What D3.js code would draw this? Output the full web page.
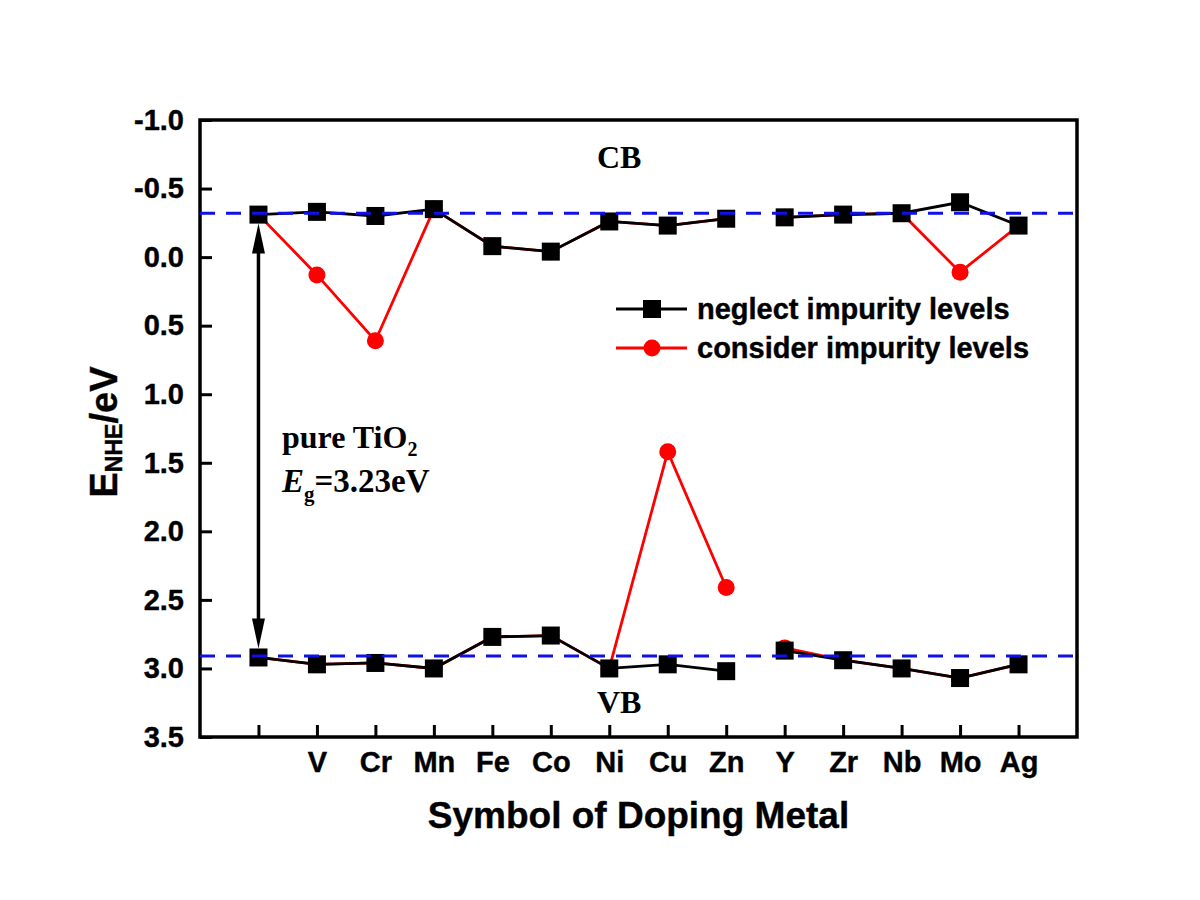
<!DOCTYPE html>
<html>
<head>
<meta charset="utf-8">
<script src="https://cdn.jsdelivr.net/npm/d3@7"></script>
<style>
  html, body { margin: 0; padding: 0; background: #fff; }
  svg { display: block; }
</style>
</head>
<body>
<svg id="chart" width="1200" height="900"></svg>
<script>
// ---------------- data ----------------
const categories = ["", "V", "Cr", "Mn", "Fe", "Co", "Ni", "Cu", "Zn", "Y", "Zr", "Nb", "Mo", "Ag"];
const cbNeglect  = [-0.31, -0.33, -0.30, -0.35, -0.08, -0.04, -0.26, -0.23, -0.28, -0.29, -0.31, -0.32, -0.40, -0.23];
const vbNeglect  = [2.92, 2.97, 2.96, 3.00, 2.77, 2.76, 3.00, 2.97, 3.02, 2.87, 2.94, 3.00, 3.07, 2.97];
const cbConsider = [-0.31, 0.13, 0.61, -0.35, -0.08, -0.04, -0.26, -0.23, -0.28, -0.29, -0.31, -0.32, 0.11, -0.23];
const vbConsider = [2.92, 2.97, 2.96, 3.00, 2.77, 2.76, 3.00, 1.42, 2.41, 2.85, 2.94, 3.00, 3.07, 2.97];
const groups = [[0, 8], [9, 13]];          // line breaks between Zn and Y
const pureCB = -0.32, pureVB = 2.91;
const yTicks = [-1.0, -0.5, 0.0, 0.5, 1.0, 1.5, 2.0, 2.5, 3.0, 3.5];
const legendLabels = ["neglect impurity levels", "consider impurity levels"];

// ---------------- layout ----------------
const L = 200, R = 1077, T = 120, B = 737;
const svg = d3.select("#chart");
const x = d3.scaleLinear().domain([-1, 14]).range([L, R]);
const y = d3.scaleLinear().domain([-1, 3.5]).range([T, B]);
const sans = "'Liberation Sans', Arial, sans-serif";
const serif = "'Liberation Serif', 'Times New Roman', serif";

// axes
const xAxis = d3.axisBottom(x)
  .tickValues(d3.range(0, categories.length))
  .tickFormat(i => categories[i])
  .tickSizeInner(-12).tickSizeOuter(0).tickPadding(14);
const gx = svg.append("g").attr("transform", `translate(0,${B})`).call(xAxis);
gx.select(".domain").remove();
gx.selectAll(".tick line").attr("stroke", "#000").attr("stroke-width", 3);
gx.selectAll(".tick text").attr("font-family", sans).attr("font-weight", "bold")
  .attr("font-size", 29).attr("fill", "#000").attr("stroke", "#000").attr("stroke-width", 0.4);

const yAxis = d3.axisLeft(y)
  .tickValues(yTicks)
  .tickFormat(d => d.toFixed(1))
  .tickSizeInner(-12).tickSizeOuter(0).tickPadding(16);
const gy = svg.append("g").attr("transform", `translate(${L},0)`).call(yAxis);
gy.select(".domain").remove();
gy.selectAll(".tick line").attr("stroke", "#000").attr("stroke-width", 3);
gy.selectAll(".tick text").attr("font-family", sans).attr("font-weight", "bold")
  .attr("font-size", 29).attr("fill", "#000").attr("stroke", "#000").attr("stroke-width", 0.4);

// frame
svg.append("rect").attr("x", L).attr("y", T).attr("width", R - L).attr("height", B - T)
  .attr("fill", "none").attr("stroke", "#000").attr("stroke-width", 3.5);

// series
const idx = d3.range(categories.length);
function drawSeries(values, color, marker) {
  const line = d3.line().x(i => x(i)).y(i => y(values[i]));
  groups.forEach(([a, b]) => {
    svg.append("path").datum(d3.range(a, b + 1)).attr("d", line)
      .attr("fill", "none").attr("stroke", color).attr("stroke-width", 2.8);
  });
  if (marker === "circle") {
    svg.append("g").selectAll("circle").data(idx).join("circle")
      .attr("cx", i => x(i)).attr("cy", i => y(values[i])).attr("r", 8.5).attr("fill", color);
  } else {
    svg.append("g").selectAll("rect").data(idx).join("rect")
      .attr("x", i => x(i) - 9).attr("y", i => y(values[i]) - 9)
      .attr("width", 18).attr("height", 18).attr("fill", color);
  }
}
drawSeries(cbConsider, "#ff0000", "circle");
drawSeries(vbConsider, "#ff0000", "circle");
drawSeries(cbNeglect, "#000", "square");
drawSeries(vbNeglect, "#000", "square");

// reference dashed lines
[pureCB, pureVB].forEach(v => {
  svg.append("line").attr("x1", L).attr("x2", R).attr("y1", y(v)).attr("y2", y(v))
    .attr("stroke", "#1010e8").attr("stroke-width", 3).attr("stroke-dasharray", "15,11");
});

// double arrow for band gap
const ax = x(0), ay1 = y(cbNeglect[0]) + 9, ay2 = y(vbNeglect[0]) - 9;
svg.append("line").attr("x1", ax).attr("x2", ax).attr("y1", ay1 + 20).attr("y2", ay2 - 20)
  .attr("stroke", "#000").attr("stroke-width", 3.5);
svg.append("path").attr("d", `M${ax},${ay1} L${ax - 6.5},${ay1 + 30} L${ax + 6.5},${ay1 + 30} Z`).attr("fill", "#000");
svg.append("path").attr("d", `M${ax},${ay2} L${ax - 6.5},${ay2 - 30} L${ax + 6.5},${ay2 - 30} Z`).attr("fill", "#000");

// annotations
svg.append("text").attr("x", 597).attr("y", 168).attr("font-family", serif).attr("font-weight", "bold")
  .attr("font-size", 32).text("CB");
svg.append("text").attr("x", 597).attr("y", 713).attr("font-family", serif).attr("font-weight", "bold")
  .attr("font-size", 32).text("VB");
const t1 = svg.append("text").attr("x", 282).attr("y", 448).attr("font-family", serif)
  .attr("font-weight", "bold").attr("font-size", 32);
t1.append("tspan").text("pure TiO");
t1.append("tspan").attr("font-size", 20).attr("dy", 8).text("2");
const t2 = svg.append("text").attr("x", 282).attr("y", 492).attr("font-family", serif)
  .attr("font-weight", "bold").attr("font-size", 33);
t2.append("tspan").attr("font-style", "italic").text("E");
t2.append("tspan").attr("font-size", 21).attr("dy", 9).text("g");
t2.append("tspan").attr("dy", -9).text("=3.23eV");

// legend
const legY = [309, 348];
const legColors = ["#000", "#ff0000"];
legY.forEach((ly, k) => {
  svg.append("line").attr("x1", 616).attr("x2", 687).attr("y1", ly).attr("y2", ly)
    .attr("stroke", legColors[k]).attr("stroke-width", 2.8);
  if (k === 0) {
    svg.append("rect").attr("x", 652 - 9).attr("y", ly - 9).attr("width", 18).attr("height", 18).attr("fill", "#000");
  } else {
    svg.append("circle").attr("cx", 652).attr("cy", ly).attr("r", 8.5).attr("fill", "#ff0000");
  }
  svg.append("text").attr("x", 697).attr("y", ly).attr("dy", "0.35em")
    .attr("font-family", sans).attr("font-weight", "bold").attr("font-size", 29)
    .attr("stroke", "#000").attr("stroke-width", 0.4)
    .text(legendLabels[k]);
});

// axis titles
svg.append("text").attr("x", (L + R) / 2).attr("y", 828).attr("text-anchor", "middle")
  .attr("font-family", sans).attr("font-weight", "bold").attr("font-size", 37)
  .attr("stroke", "#000").attr("stroke-width", 0.4)
  .text("Symbol of Doping Metal");
const yt = svg.append("text").attr("transform", "translate(117,432) rotate(-90)")
  .attr("text-anchor", "middle").attr("font-family", sans).attr("font-weight", "bold")
  .attr("font-size", 38).attr("stroke", "#000").attr("stroke-width", 0.4);
yt.append("tspan").text("E");
yt.append("tspan").attr("font-size", 23).attr("dy", 5).text("NHE");
yt.append("tspan").attr("dy", -5).text("/eV");
</script>
</body>
</html>
